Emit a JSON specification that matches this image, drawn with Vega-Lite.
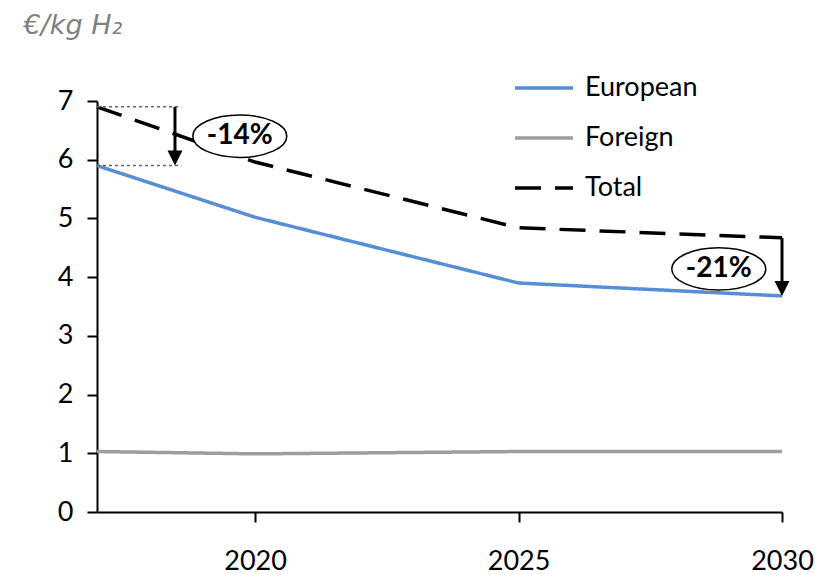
{
  "$schema": "https://vega.github.io/schema/vega-lite/v6.json",
  "width": 685,
  "height": 411,
  "autosize": {"type": "none"},
  "padding": {"left": 97, "top": 101, "right": 48, "bottom": 62},
  "config": {"view": {"stroke": null}, "font": "Lato"},
  "datasets": {
    "series": [
      {"year": 2017, "series": "European", "value": 5.90},
      {"year": 2020, "series": "European", "value": 5.02},
      {"year": 2025, "series": "European", "value": 3.90},
      {"year": 2030, "series": "European", "value": 3.68},
      {"year": 2017, "series": "Foreign", "value": 1.03},
      {"year": 2020, "series": "Foreign", "value": 0.99},
      {"year": 2025, "series": "Foreign", "value": 1.03},
      {"year": 2030, "series": "Foreign", "value": 1.03},
      {"year": 2017, "series": "Total", "value": 6.90},
      {"year": 2020, "series": "Total", "value": 5.96},
      {"year": 2025, "series": "Total", "value": 4.84},
      {"year": 2030, "series": "Total", "value": 4.67}
    ],
    "guides": [
      {"x": 2017, "x2": 2018.6, "y": 6.90},
      {"x": 2017, "x2": 2018.6, "y": 5.90}
    ],
    "arrows": [
      {"x": 2018.48, "from": 6.90, "to": 5.90, "shaftEnd": 6.05},
      {"x": 2030, "from": 4.67, "to": 3.68, "shaftEnd": 3.83}
    ],
    "labels": [
      {"x": 2019.71, "y": 6.40, "label": "-14%"},
      {"x": 2028.8, "y": 4.14, "label": "-21%"}
    ]
  },
  "layer": [
    {
      "data": {"name": "series"},
      "mark": {"type": "line", "strokeWidth": 3.5, "strokeCap": "butt"},
      "encoding": {
        "x": {
          "field": "year", "type": "quantitative",
          "scale": {"domain": [2017, 2030], "nice": false, "zero": false},
          "axis": {
            "values": [2020, 2025, 2030], "format": "d", "title": null, "grid": false,
            "domainColor": "#000000", "domainWidth": 2, "tickColor": "#000000", "tickWidth": 2,
            "tickSize": 10, "labelFontSize": 27, "labelColor": "#000000", "labelPadding": 26,
            "labelFlush": false, "labelFont": "Lato"
          }
        },
        "y": {
          "field": "value", "type": "quantitative",
          "scale": {"domain": [0, 7], "nice": false},
          "axis": {
            "values": [0, 1, 2, 3, 4, 5, 6, 7], "format": "d", "grid": false,
            "domainColor": "#000000", "domainWidth": 2, "tickColor": "#000000", "tickWidth": 2,
            "tickSize": 10, "labelFontSize": 27, "labelColor": "#000000", "labelPadding": 14,
            "labelFont": "Lato",
            "title": "€/kg H₂", "titleAngle": 0, "titleX": -74, "titleY": -68,
            "titleAlign": "left", "titleBaseline": "alphabetic", "titleFontSize": 27,
            "titleFontStyle": "italic", "titleFontWeight": "normal", "titleColor": "#7F7F7F",
            "titleFont": "DejaVu Sans"
          }
        },
        "color": {
          "field": "series", "type": "nominal",
          "scale": {"domain": ["European", "Foreign", "Total"], "range": ["#558ED5", "#9D9D9D", "#000000"]},
          "legend": {
            "title": null, "orient": "none", "legendX": 416, "legendY": -44,
            "symbolType": "stroke", "symbolSize": 3364, "symbolStrokeWidth": 3.5,
            "labelFontSize": 27, "labelFont": "Lato", "labelColor": "#000000",
            "labelOffset": 10, "rowPadding": 6
          }
        },
        "strokeDash": {
          "field": "series", "type": "nominal",
          "scale": {"domain": ["European", "Foreign", "Total"], "range": [[1, 0], [1, 0], [26, 14]]},
          "legend": {
            "title": null, "orient": "none", "legendX": 416, "legendY": -44,
            "symbolType": "stroke", "symbolSize": 3364, "symbolStrokeWidth": 3.5,
            "labelFontSize": 27, "labelFont": "Lato", "labelColor": "#000000",
            "labelOffset": 10, "rowPadding": 6
          }
        }
      }
    },
    {
      "data": {"name": "guides"},
      "mark": {"type": "rule", "color": "#666666", "strokeWidth": 1.5, "strokeDash": [3, 3]},
      "encoding": {
        "x": {"field": "x", "type": "quantitative"},
        "x2": {"field": "x2"},
        "y": {"field": "y", "type": "quantitative"}
      }
    },
    {
      "data": {"name": "arrows"},
      "mark": {"type": "rule", "color": "#000000", "strokeWidth": 3},
      "encoding": {
        "x": {"field": "x", "type": "quantitative"},
        "y": {"field": "from", "type": "quantitative"},
        "y2": {"field": "shaftEnd"}
      }
    },
    {
      "data": {"name": "arrows"},
      "mark": {"type": "point", "shape": "M0,0 L-1,-2 L1,-2 Z", "size": 225, "filled": true, "color": "#000000", "opacity": 1},
      "encoding": {
        "x": {"field": "x", "type": "quantitative"},
        "y": {"field": "to", "type": "quantitative"}
      }
    },
    {
      "data": {"name": "labels"},
      "mark": {
        "type": "point",
        "shape": "M1,0 C1,0.2485 0.5523,0.45 0,0.45 C-0.5523,0.45 -1,0.2485 -1,0 C-1,-0.2485 -0.5523,-0.45 0,-0.45 C0.5523,-0.45 1,-0.2485 1,0 Z",
        "size": 8836, "filled": true, "fill": "#FFFFFF", "stroke": "#000000", "strokeWidth": 1.5, "opacity": 1
      },
      "encoding": {
        "x": {"field": "x", "type": "quantitative"},
        "y": {"field": "y", "type": "quantitative"}
      }
    },
    {
      "data": {"name": "labels"},
      "mark": {"type": "text", "fontSize": 28, "fontWeight": "bold", "font": "Lato", "align": "center", "baseline": "middle", "color": "#000000"},
      "encoding": {
        "x": {"field": "x", "type": "quantitative"},
        "y": {"field": "y", "type": "quantitative"},
        "text": {"field": "label", "type": "nominal"}
      }
    }
  ]
}
